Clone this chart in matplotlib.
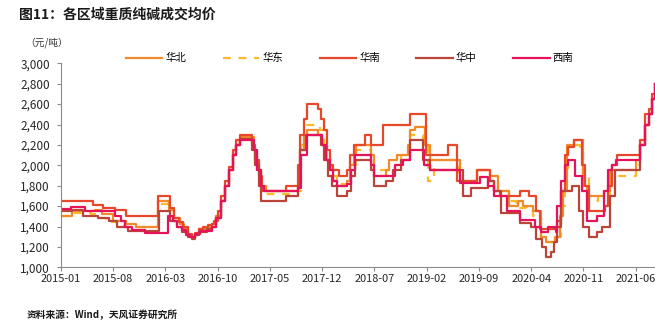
import matplotlib
matplotlib.use("Agg")
import matplotlib.pyplot as plt

plt.rcParams['font.family'] = ['Noto Sans CJK SC', 'DejaVu Sans']

# months counted from 2015-01, price changes read as step points (元/吨)
huabei_m = [0, 1.5, 4.5, 5.5, 7, 8.7, 10, 13, 14.5, 15.2, 16, 16.5, 17, 17.5, 18, 18.5, 19.5, 20.2, 20.8,
            21.5, 22, 22.5, 23, 23.5, 24, 25.8, 26.3, 26.8, 27.5, 31.7, 32, 32.5, 33, 34.5, 35, 35.5, 36,
            36.5, 37, 38.3, 38.7, 39.3, 39.5, 41.6, 42, 43.5, 44, 45, 46.5, 46.8, 47.5, 48.8, 49.5, 50.6,
            53.5, 55.8, 57.5, 58.5, 60, 61.3, 61.9, 63.3, 64.3, 65, 66.2, 66.8, 67.3, 67.8, 68.8, 69.9,
            70.5, 72.8, 73.5, 77, 77.6, 78.3, 78.8, 79.2, 79.6]
huabei_p = [1500, 1550, 1560, 1520, 1450, 1420, 1400, 1650, 1560, 1480, 1420, 1380, 1320, 1290, 1330, 1380,
            1400, 1420, 1500, 1650, 1800, 1950, 2100, 2200, 2280, 2150, 1950, 1800, 1750, 1780, 2150, 2300,
            2350, 2300, 2200, 2050, 1950, 1850, 1800, 1850, 2000, 2100, 2200, 2100, 1900, 1950, 2050, 2100,
            2200, 2350, 2380, 2200, 2050, 2050, 1850, 1950, 1900, 1750, 1600, 1650, 1600, 1550, 1300, 1250,
            1300, 1500, 1750, 2200, 2250, 1800, 1700, 1750, 1950, 2050, 2200, 2400, 2500, 2650, 2800]

huadong_m = [0, 1.5, 4, 5, 6, 7.5, 8.5, 13, 14.3, 15.2, 16, 16.5, 17, 17.5, 18, 18.5, 19.5, 20.2, 20.8,
             21.5, 22, 22.5, 23, 23.5, 24, 25.8, 26.3, 26.8, 27.5, 31.7, 32.2, 32.9, 34.7, 35.2, 35.7, 36.2,
             37, 38.3, 38.8, 39.5, 41.5, 42, 44.8, 45.5, 46.8, 48.5, 49.2, 50, 53.3, 55.7, 57.5, 58.5, 60,
             61, 62.5, 63.3, 64.3, 65, 66.5, 67, 67.5, 68, 69.5, 70, 70.8, 72, 73.5, 77, 77.6, 78.3, 78.8,
             79.2, 79.6]
huadong_p = [1500, 1530, 1520, 1480, 1440, 1420, 1400, 1620, 1560, 1480, 1420, 1380, 1320, 1290, 1330, 1380,
             1400, 1420, 1500, 1650, 1800, 1950, 2100, 2200, 2270, 2150, 1950, 1800, 1720, 1750, 2200, 2400,
             2350, 2200, 2000, 1900, 1820, 1850, 2000, 2150, 2100, 1950, 2000, 2100, 2300, 2250, 1850, 2050,
             1850, 1950, 1900, 1750, 1650, 1580, 1550, 1500, 1300, 1250, 1300, 1600, 1900, 2200, 2150, 1900,
             1650, 1700, 1900, 2000, 2200, 2400, 2500, 2650, 2800]

huanan_m = [0, 4.3, 5.6, 7.2, 8.7, 13, 14.6, 15.2, 15.8, 16.4, 17, 17.5, 18, 18.5, 19, 19.7, 20.2, 20.5, 21,
            21.5, 22, 22.5, 23, 23.5, 24, 25.6, 26, 26.5, 26.9, 30.2, 31.7, 32, 32.5, 33, 34.4, 34.8, 35.2,
            35.6, 36, 36.5, 37.3, 38.3, 38.7, 39.3, 40.8, 41.5, 43.2, 46.8, 48.85, 51.8, 53.1, 55.8, 57.5,
            58, 58.8, 61.5, 62.7, 63.6, 64.2, 66.4, 67, 67.5, 68, 68.7, 69.8, 70.2, 70.7, 72.9, 73.3, 73.8,
            74.5, 77.6, 78.3, 78.8, 79.2, 79.6]
huanan_p = [1650, 1610, 1580, 1560, 1500, 1700, 1580, 1480, 1440, 1400, 1330, 1300, 1340, 1380, 1400, 1410,
            1420, 1450, 1550, 1700, 1850, 1980, 2150, 2250, 2300, 2200, 2050, 1900, 1750, 1800, 2000, 2300,
            2450, 2600, 2550, 2450, 2350, 2150, 2000, 1950, 1900, 1950, 2100, 2200, 2300, 2200, 2400, 2500,
            2100, 2200, 1850, 1950, 1850, 1750, 1700, 1750, 1700, 1550, 1380, 1450, 1750, 2100, 2180, 2250,
            2000, 1800, 1550, 1600, 1800, 2000, 2100, 2250, 2500, 2550, 2700, 2800]

huazhong_m = [0, 1.5, 3, 5, 6.5, 7.5, 9, 13.2, 14.6, 15.5, 16.2, 17, 17.5, 18, 18.5, 19.5, 20.2, 20.8, 21.5,
              22, 22.5, 23, 23.5, 24, 25.6, 26, 26.5, 26.8, 30.2, 31.7, 32, 32.8, 34.8, 35.3, 35.8, 36.3, 37,
              38.3, 38.8, 39.4, 41.5, 42, 43.5, 44.5, 45.5, 46.8, 48.5, 49.5, 53.8, 55, 57.2, 58, 59, 61.5,
              63, 63.7, 64.4, 65, 65.6, 66, 66.5, 67, 68.5, 69.4, 70, 70.8, 71.8, 72.5, 73.5, 74.2, 77.6,
              78.3, 78.8, 79.2, 79.6]
huazhong_p = [1550, 1560, 1500, 1480, 1450, 1400, 1360, 1550, 1450, 1400, 1350, 1300, 1280, 1320, 1350, 1380,
              1400, 1480, 1650, 1800, 1950, 2100, 2200, 2260, 2150, 2000, 1800, 1650, 1700, 1800, 2150, 2300,
              2200, 2050, 1900, 1800, 1700, 1750, 1900, 2050, 1950, 1800, 1850, 1950, 2050, 2250, 2050, 1950,
              1700, 1780, 1850, 1750, 1530, 1430, 1400, 1280, 1200, 1100, 1150, 1250, 1400, 1750, 1800, 1550,
              1400, 1300, 1350, 1400, 1700, 1950, 2200, 2400, 2500, 2650, 2800]

xinan_m = [0, 1.4, 3.2, 7.2, 8, 8.6, 9.5, 11.3, 14.3, 15, 15.6, 16.2, 16.8, 17.3, 18, 18.6, 20.2, 20.8, 21.5,
           22, 22.5, 23, 23.5, 24, 25.8, 26.3, 26.8, 27.2, 31.7, 32.1, 32.9, 35, 35.5, 36, 36.5, 37, 38.3,
           38.8, 39.4, 41.5, 42, 44.8, 45.8, 46.8, 48.6, 49.5, 53.5, 56.2, 57.2, 58, 59.7, 61.5, 63.5, 64.3,
           65.3, 66.3, 66.5, 67, 67.5, 68, 68.9, 69.8, 70.5, 71.8, 72.8, 73.3, 73.8, 74.3, 77.6, 78.3, 78.8,
           79.2, 79.6]
xinan_p = [1570, 1590, 1550, 1500, 1450, 1400, 1370, 1340, 1500, 1450, 1400, 1370, 1320, 1300, 1330, 1360,
           1400, 1480, 1650, 1800, 1950, 2100, 2200, 2250, 2150, 1950, 1800, 1750, 1780, 2100, 2300, 2200,
           2050, 1950, 1850, 1800, 1820, 1950, 2100, 2000, 1900, 2000, 2050, 2150, 2000, 1950, 1830, 1890,
           1800, 1700, 1550, 1460, 1400, 1350, 1400, 1350, 1600, 1850, 2000, 2050, 1900, 1750, 1450, 1500,
           1750, 1950, 2000, 2050, 2200, 2400, 2500, 2650, 2800]

tick_labels = ['2015-01', '2015-08', '2016-03', '2016-10', '2017-05', '2017-12',
               '2018-07', '2019-02', '2019-09', '2020-04', '2020-11', '2021-06']

series = [
    ('华北', huabei_m, huabei_p, '#F08A2B', '-'),
    ('华东', huadong_m, huadong_p, '#FBBA2C', (0, (3.5, 3.5))),
    ('华南', huanan_m, huanan_p, '#E8482A', '-'),
    ('华中', huazhong_m, huazhong_p, '#B9453A', '-'),
    ('西南', xinan_m, xinan_p, '#E5135A', '-'),
]

fig = plt.figure(figsize=(6.55, 3.28), dpi=100)
ax = fig.add_axes([0.0931, 0.185, 0.907, 0.622])

# 华东 goes underneath the solid lines
order = [1, 0, 2, 3, 4]
handles = {}
for i in order:
    name, m, p, color, ls = series[i]
    line, = ax.step(m, p, where='post', color=color, linestyle=ls, linewidth=1.6, label=name)
    handles[name] = line

ax.set_xlim(0, 79.6)
ax.set_ylim(1000, 3000)
ax.set_yticks(range(1000, 3001, 200))
ax.set_yticklabels([f'{v:,}' for v in range(1000, 3001, 200)])
ax.set_xticks([i * 7 for i in range(len(tick_labels))])
ax.set_xticklabels(tick_labels)

for side in ['top', 'right']:
    ax.spines[side].set_visible(False)
for side in ['left', 'bottom']:
    ax.spines[side].set_color('#8C8C8C')
    ax.spines[side].set_linewidth(0.8)
ax.tick_params(axis='both', colors='#8C8C8C', labelcolor='#262626', length=3, width=0.8)
ax.tick_params(axis='y', pad=5, labelsize=8.5)
ax.tick_params(axis='x', pad=2, labelsize=7.9)

names = [s[0] for s in series]
fig.legend([handles[n] for n in names], names, loc='center', ncol=5,
           bbox_to_anchor=(0.534, 0.823), frameon=False, fontsize=7.5,
           handlelength=3.5, columnspacing=3.5, handletextpad=0.3)

fig.text(0.029, 0.954, '图11：各区域重质纯碱成交均价', fontsize=10, fontweight='bold',
         ha='left', va='center', color='#1a1a1a')
fig.text(0.038, 0.869, '（元/吨）', fontsize=7, ha='left', va='center', color='#333333')
fig.text(0.041, 0.040, '资料来源：Wind，天风证券研究所', fontsize=7, fontweight='bold',
         ha='left', va='center', color='#1a1a1a')

fig.savefig('out.png', dpi=100)
